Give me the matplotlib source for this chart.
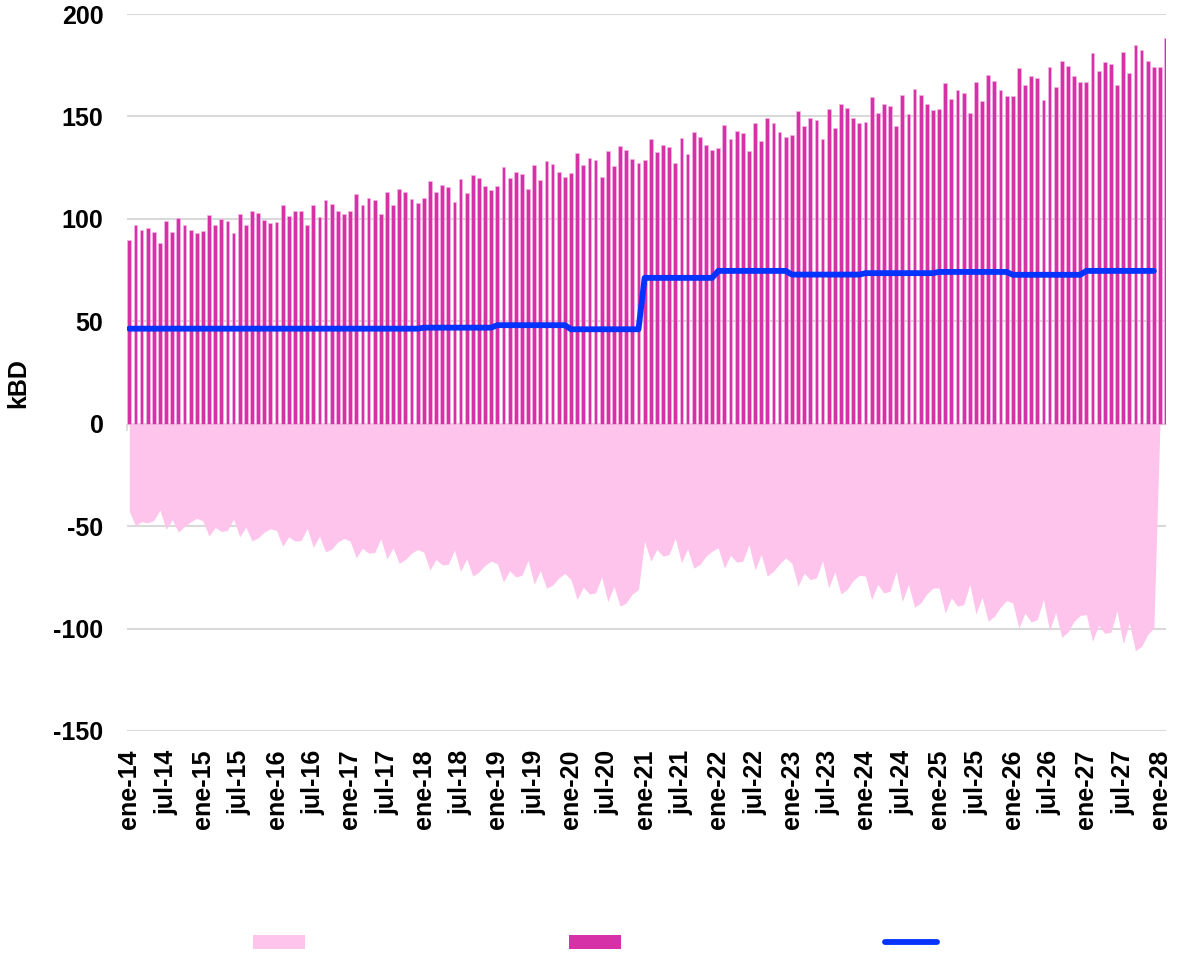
import numpy as np
import matplotlib
matplotlib.use("Agg")
import matplotlib.pyplot as plt
from matplotlib.patches import Patch
from matplotlib.lines import Line2D

plt.rcParams['font.family'] = ['Liberation Sans', 'DejaVu Sans']
plt.rcParams['font.weight'] = 'bold'
plt.rcParams['axes.unicode_minus'] = False

# Monthly bars (kBD), ene-14 onwards
bars = [
    89.6, 96.8, 94.7, 95.5, 93.7, 88.2, 98.9, 93.4, 100.2, 97.1, 94.7, 92.9,
    94.2, 101.8, 96.8, 99.7, 98.9, 92.9, 102.3, 96.8, 104.0, 102.8, 99.4, 98.1,
    98.6, 106.6, 101.4, 104.0, 103.6, 97.1, 106.9, 101.0, 109.2, 107.4, 104.0, 102.3,
    103.6, 112.3, 107.0, 110.0, 109.2, 102.3, 112.9, 106.6, 114.7, 112.9, 109.7, 107.9,
    110.0, 118.6, 113.1, 116.5, 115.5, 108.4, 119.4, 112.6, 121.5, 119.8, 116.0, 114.2,
    116.0, 125.3, 119.8, 122.9, 121.9, 114.7, 126.1, 119.0, 128.2, 126.6, 122.7, 120.6,
    122.4, 132.2, 126.1, 129.7, 128.7, 120.6, 132.9, 125.8, 135.6, 133.4, 129.0, 127.1,
    128.7, 139.0, 132.6, 136.1, 135.1, 127.1, 139.6, 131.8, 142.2, 140.1, 136.1, 133.8,
    134.6, 145.8, 139.0, 142.9, 141.9, 132.9, 146.6, 138.0, 149.1, 147.0, 142.2, 140.1,
    141.0, 152.5, 145.4, 149.1, 148.3, 139.1, 153.4, 144.5, 155.9, 154.0, 149.3, 146.6,
    147.5, 159.5, 151.7, 155.9, 155.1, 145.4, 160.3, 151.2, 163.2, 160.7, 155.9, 153.0,
    153.8, 166.2, 158.6, 162.8, 161.5, 151.7, 167.0, 157.7, 170.1, 167.5, 162.8, 159.8,
    160.2, 173.5, 165.4, 169.6, 168.8, 158.2, 174.2, 164.6, 177.3, 174.8, 169.6, 166.7,
    167.0, 180.8, 172.2, 176.8, 175.7, 165.1, 181.5, 171.4, 185.1, 182.5, 176.9, 174.0,
    174.3, 188.4,
]

# Monthly negative series (kBD), ene-14 .. ene-28
area = [
    -42.7, -49.7, -47.9, -48.4, -47.2, -42.2, -51.6, -46.9, -52.9, -50.2, -47.9, -46.2,
    -47.4, -54.9, -50.6, -52.6, -52.1, -46.6, -55.2, -50.5, -57.2, -55.7, -52.9, -51.3,
    -52.1, -59.8, -55.2, -57.3, -57.0, -51.1, -60.4, -54.9, -62.6, -61.2, -57.7, -56.0,
    -57.3, -65.5, -60.8, -63.2, -62.9, -56.2, -66.0, -60.6, -68.2, -66.3, -63.2, -61.4,
    -62.7, -71.4, -66.3, -68.9, -68.7, -61.7, -72.1, -66.0, -74.4, -72.3, -69.1, -67.1,
    -68.4, -77.2, -71.8, -74.8, -74.0, -66.8, -78.3, -71.7, -80.3, -78.8, -75.3, -73.1,
    -76.2, -85.8, -79.8, -83.1, -82.6, -74.8, -86.8, -79.5, -89.1, -87.5, -83.1, -80.9,
    -57.3, -67.1, -61.4, -64.7, -63.8, -55.9, -67.9, -61.1, -70.5, -68.7, -64.7, -62.2,
    -60.6, -70.4, -64.3, -67.6, -67.1, -59.0, -71.4, -63.8, -74.4, -72.0, -68.4, -65.5,
    -68.2, -79.3, -73.0, -76.1, -75.3, -66.8, -80.2, -72.3, -83.1, -80.9, -76.5, -74.0,
    -74.4, -85.8, -78.5, -82.6, -81.8, -72.3, -86.8, -78.5, -89.6, -87.5, -83.1, -80.2,
    -80.2, -92.4, -85.0, -89.1, -88.3, -78.5, -92.9, -84.7, -96.4, -94.0, -89.6, -86.3,
    -87.5, -99.7, -92.5, -96.8, -95.6, -85.8, -101.0, -92.2, -104.3, -101.7, -96.4, -93.6,
    -93.2, -106.2, -98.4, -102.4, -101.7, -91.2, -107.5, -97.3, -110.8, -108.7, -102.9, -99.7,
    0.0,
]

# Annual level of the blue series (kBD), 2014..2027, held for each month
line_years = [2014, 2015, 2016, 2017, 2018, 2019, 2020, 2021, 2022, 2023, 2024, 2025, 2026, 2027]
line_annual = [46.4, 46.4, 46.4, 46.4, 46.9, 48.1, 46.1, 71.2, 74.6, 72.8, 73.5, 74.1, 72.7, 74.6]
line = np.repeat(line_annual, 12)

tick_labels = [
    'ene-14', 'jul-14', 'ene-15', 'jul-15', 'ene-16', 'jul-16', 'ene-17', 'jul-17',
    'ene-18', 'jul-18', 'ene-19', 'jul-19', 'ene-20', 'jul-20', 'ene-21', 'jul-21',
    'ene-22', 'jul-22', 'ene-23', 'jul-23', 'ene-24', 'jul-24', 'ene-25', 'jul-25',
    'ene-26', 'jul-26', 'ene-27', 'jul-27', 'ene-28',
]

PINK = '#FFC4EC'
MAGENTA = '#D631A7'
BLUE = '#0433FF'
GRID = '#D9D9D9'

fig = plt.figure(figsize=(11.78, 9.8), dpi=100)
ax = fig.add_axes([127 / 1178, 1 - 731 / 980, (1165.5 - 127) / 1178, (731 - 14) / 980])

x_area = np.arange(len(area))
x_bars = np.arange(len(bars))
x_line = np.arange(len(line))

ax.fill_between(x_area, area, 0, color=PINK, linewidth=0, zorder=1)
ax.bar(x_bars, bars, width=0.62, color=MAGENTA, edgecolor='#F3B6E2',
       linewidth=0.5, zorder=2)
ax.plot(x_line, line, color=BLUE, linewidth=4.2, solid_capstyle='round',
        solid_joinstyle='round', zorder=3)

ax.set_xlim(-0.37, 168.9)
ax.set_ylim(-150, 200)
ax.set_yticks(np.arange(-150, 201, 50))
ax.yaxis.grid(True, color=GRID, linewidth=1.5)
ax.set_axisbelow(True)
for s in ax.spines.values():
    s.set_visible(False)

ax.tick_params(axis='y', length=0, pad=17, labelsize=18)
ax.set_xticks(np.arange(0, 169, 6))
ax.set_xticklabels(tick_labels, rotation=90, fontsize=18, va='top', ha='center')
ax.tick_params(axis='x', length=0, pad=13.5)

ax.set_ylabel('kBD', fontsize=18, fontweight='bold')
ax.yaxis.set_label_coords(-0.093, 0.485)

# Category axis line with tick marks at zero
zero_frac = 150 / 350
sec = ax.secondary_xaxis(zero_frac)
sec.set_xticks(np.arange(0, 169, 6) - 0.37)
sec.tick_params(axis='x', length=5, width=1.2, color=GRID, labelbottom=False)
sec.spines['bottom'].set_color(GRID)
sec.spines['bottom'].set_linewidth(1.0)

handles = [
    Patch(facecolor=PINK, edgecolor='none'),
    Patch(facecolor=MAGENTA, edgecolor='none'),
    Line2D([], [], color=BLUE, linewidth=4.2, solid_capstyle='round'),
]
fig.legend(handles, ['', '', ''], loc='center', bbox_to_anchor=(595 / 1178, 1 - 944 / 980),
           ncol=3, frameon=False, fontsize=14, handlelength=2.68, handleheight=0.72,
           handletextpad=0.0, columnspacing=13.55)

fig.savefig('out.png', dpi=100)
